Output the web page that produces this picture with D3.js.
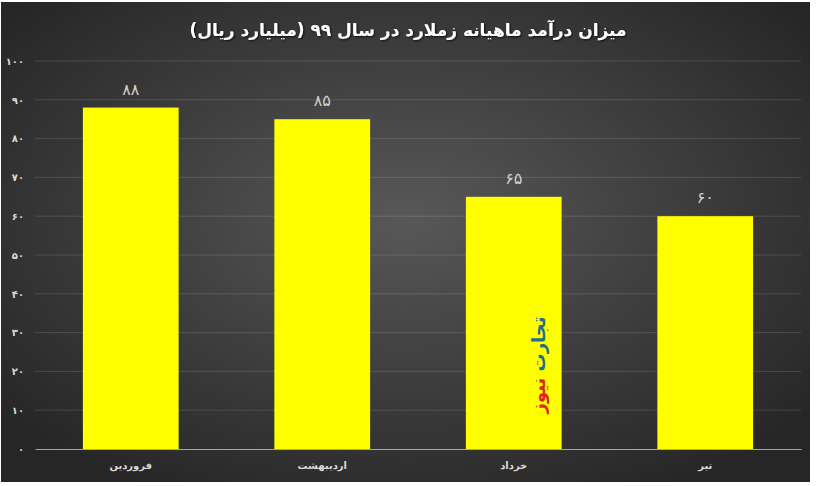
<!DOCTYPE html>
<html><head><meta charset="utf-8">
<script src="https://cdn.jsdelivr.net/npm/d3@7"></script>
<style>
html,body{margin:0;padding:0;background:#fff;}
svg{display:block;}
</style></head>
<body>
<svg id="chart" width="817" height="486"></svg>
<script>
const categories = ["فروردین", "اردیبهشت", "خرداد", "تیر"];
const values = [88, 85, 65, 60];
const yTicks = [0, 10, 20, 30, 40, 50, 60, 70, 80, 90, 100];
const title = "میزان درآمد ماهیانه زملارد در سال ۹۹ (میلیارد ریال)";

const fa = n => String(n).replace(/\d/g, d => "۰۱۲۳۴۵۶۷۸۹"[d]);

const svg = d3.select("#chart");
const defs = svg.append("defs");
const grad = defs.append("radialGradient").attr("id", "bg")
  .attr("cx", "50%").attr("cy", "45%").attr("r", "65%");
grad.append("stop").attr("offset", "0%").attr("stop-color", "#585858");
grad.append("stop").attr("offset", "100%").attr("stop-color", "#262626");
const sh = defs.append("filter").attr("id", "shadow").attr("x", "-10%").attr("y", "-50%").attr("width", "120%").attr("height", "200%");
sh.append("feDropShadow").attr("dx", 1).attr("dy", 1).attr("stdDeviation", 1).attr("flood-color", "#000").attr("flood-opacity", 0.8);

svg.append("rect").attr("x", 1).attr("y", 2).attr("width", 809).attr("height", 480).attr("fill", "url(#bg)");

const margin = {left: 35, right: 801, top: 61, bottom: 449};
const x = d3.scaleBand().domain(categories).range([margin.left, margin.right]).paddingInner(0.5).paddingOuter(0.25);
const y = d3.scaleLinear().domain([0, 100]).range([margin.bottom, margin.top]);

// gridlines
svg.append("g").selectAll("line").data(yTicks.filter(t => t > 0)).join("line")
  .attr("x1", margin.left).attr("x2", margin.right)
  .attr("y1", d => y(d)).attr("y2", d => y(d))
  .attr("stroke", "#ffffff").attr("stroke-opacity", 0.13).attr("stroke-width", 1);

// y axis labels
const yAxis = d3.axisLeft(y).tickValues(yTicks).tickSize(0).tickPadding(0).tickFormat(fa);
const gy = svg.append("g").attr("transform", `translate(${margin.left - 11},0)`).call(yAxis);
gy.select(".domain").remove();
gy.selectAll("text").attr("fill", "#d9d9d9").attr("font-family", "DejaVu Sans, sans-serif")
  .attr("font-size", 10).attr("font-weight", "bold");

// bars
svg.append("g").selectAll("rect").data(values).join("rect")
  .attr("x", (d, i) => x(categories[i])).attr("width", x.bandwidth())
  .attr("y", d => y(d)).attr("height", d => y(0) - y(d))
  .attr("fill", "#ffff00");

// x axis
const xAxis = d3.axisBottom(x).tickSize(0).tickPadding(13);
const gx = svg.append("g").attr("transform", `translate(0,${margin.bottom})`).call(xAxis);
gx.select(".domain").attr("stroke", "#a6a6a6").attr("stroke-width", 1.2);
gx.selectAll("text").attr("fill", "#d9d9d9").attr("font-family", "DejaVu Sans, sans-serif")
  .attr("font-size", 10).attr("font-weight", "bold");

// value labels
svg.append("g").selectAll("text").data(values).join("text")
  .attr("x", (d, i) => x(categories[i]) + x.bandwidth() / 2)
  .attr("y", d => y(d) - 13)
  .attr("text-anchor", "middle")
  .attr("fill", "#d0d0d0").attr("font-family", "DejaVu Sans, sans-serif")
  .attr("font-size", 16)
  .text(d => fa(d));

// title
svg.append("text").attr("x", 408).attr("y", 36).attr("text-anchor", "middle")
  .attr("fill", "#ffffff").attr("font-family", "DejaVu Sans, sans-serif")
  .attr("font-size", 17).attr("font-weight", "bold").attr("filter", "url(#shadow)")
  .attr("direction", "rtl")
  .text(title);

// watermark
const wm = svg.append("text").attr("transform", "translate(545,365) rotate(-90)")
  .attr("text-anchor", "middle").attr("font-family", "DejaVu Sans, sans-serif")
  .attr("font-size", 18).attr("font-weight", "bold").attr("direction", "rtl");
wm.append("tspan").attr("fill", "#1f6f8b").text("تجارت ");
wm.append("tspan").attr("fill", "#e0261f").text("نیوز");
</script>
</body></html>
